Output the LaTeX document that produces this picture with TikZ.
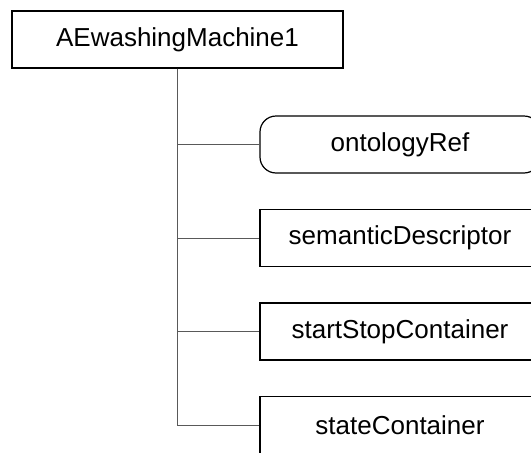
\documentclass[tikz,border=0pt]{standalone}
\usepackage{fontspec}
\setmainfont{Liberation Sans}
\usetikzlibrary{positioning}

\begin{document}
\begin{tikzpicture}[x=1pt, y=1pt, node distance=93.5pt, font=\fontsize{26}{30}\selectfont]
        \tikzstyle{block} = [rectangle, draw=black, line width=1.2pt, fill=white,
                            text centered, inner sep=0pt, minimum width=280pt, minimum height=57pt]
        \tikzstyle{link} = [draw=black!65, line width=0.9pt]

        \useasboundingbox (0,0) rectangle (531,-453);
        \clip (0,0) rectangle (531,-453);

        % Noeud racine
        \node[block, minimum width=331pt] (root) at (177.5,-39.5) {AEwashingMachine1};

        % Noeuds fils
        \node[block, rounded corners=16pt] (ontref) at (400,-144.5) {ontologyRef};
        \node[block, below of = ontref] (semdesc) {semanticDescriptor};
        \node[block, below of = semdesc] (startstop) {startStopContainer};
        \node[block, below of = startstop] (state) {stateContainer};

        % Liens
        \draw[link] (root.south) |- (ontref.west);
        \draw[link] (root.south) |- (semdesc.west);
        \draw[link] (root.south) |- (startstop.west);
        \draw[link] (root.south) |- (state.west);
    \end{tikzpicture}
\end{document}
